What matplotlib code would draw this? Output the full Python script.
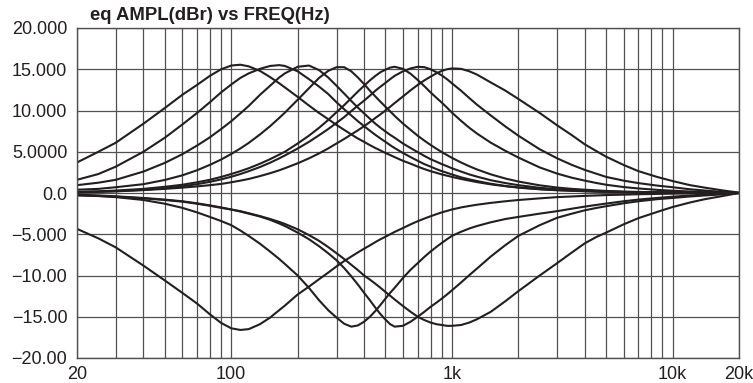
import numpy as np
import matplotlib
matplotlib.use("Agg")
from matplotlib import pyplot as plt
from matplotlib.ticker import NullFormatter

plt.rcParams['font.family'] = ['Liberation Sans', 'DejaVu Sans']

# frequency points (Hz) shared by all curves
freq_hz = [20, 25, 30, 40, 50, 60, 70, 80, 90, 100,
           110, 120, 135, 150, 165, 175, 200, 225, 250, 275,
           300, 325, 350, 375, 400, 425, 450, 475, 500, 525,
           550, 600, 650, 700, 750, 800, 850, 900, 950, 1000,
           1100, 1200, 1300, 1500, 1750, 2000, 2500, 3000, 3500, 4000,
           4500, 5000, 6000, 7000, 8500, 10000, 12000, 14000, 17000, 20000]

# boost curves (dBr), named by centre frequency
boost_105 = [3.7, 5.0, 6.1, 8.4, 10.3, 11.9, 13.1, 14.2, 15.0, 15.45,
             15.55, 15.35, 14.8, 14.05, 13.3, 12.8, 11.65, 10.6, 9.7, 8.95,
             8.25, 7.65, 7.1, 6.6, 6.2, 5.8, 5.45, 5.15, 4.85, 4.6,
             4.35, 3.9, 3.55, 3.2, 2.9, 2.65, 2.45, 2.25, 2.1, 1.95,
             1.7, 1.5, 1.32, 1.05, 0.82, 0.65, 0.45, 0.33, 0.26, 0.21,
             0.17, 0.14, 0.1, 0.08, 0.05, 0.04, 0.03, 0.02, 0.01, 0.0]
boost_155 = [1.6, 2.3, 3.2, 5.0, 6.7, 8.3, 9.7, 11.0, 12.2, 13.15,
             13.95, 14.5, 15.05, 15.4, 15.5, 15.4, 14.75, 13.8, 12.9, 12.0,
             11.0, 10.15, 9.4, 8.7, 8.1, 7.55, 7.05, 6.6, 6.2, 5.8,
             5.45, 4.85, 4.35, 3.9, 3.5, 3.2, 2.9, 2.65, 2.45, 2.25,
             1.9, 1.65, 1.45, 1.12, 0.85, 0.68, 0.47, 0.36, 0.29, 0.23,
             0.19, 0.16, 0.11, 0.09, 0.06, 0.05, 0.03, 0.02, 0.01, 0.0]
boost_210 = [0.95, 1.25, 1.6, 2.6, 3.65, 4.7, 5.75, 6.75, 7.75, 8.7,
             9.65, 10.55, 11.9, 13.0, 14.0, 14.5, 15.3, 15.45, 14.9, 14.0,
             13.0, 12.05, 11.15, 10.35, 9.65, 9.0, 8.4, 7.9, 7.45, 7.05,
             6.7, 6.0, 5.45, 4.95, 4.5, 4.1, 3.8, 3.5, 3.25, 3.0,
             2.6, 2.25, 1.98, 1.55, 1.2, 0.95, 0.63, 0.46, 0.35, 0.28,
             0.22, 0.18, 0.12, 0.09, 0.06, 0.05, 0.03, 0.02, 0.01, 0.0]
boost_305 = [0.4, 0.5, 0.7, 1.07, 1.58, 2.14, 2.76, 3.41, 4.06, 4.73,
             5.4, 6.07, 7.1, 8.1, 9.1, 9.74, 11.3, 12.7, 13.95, 14.8,
             15.25, 15.25, 14.75, 14.0, 13.2, 12.4, 11.7, 11.05, 10.45, 9.9,
             9.35, 8.42, 7.65, 6.94, 6.35, 5.83, 5.37, 4.96, 4.6, 4.26,
             3.7, 3.24, 2.85, 2.26, 1.75, 1.39, 0.93, 0.66, 0.5, 0.4,
             0.32, 0.25, 0.18, 0.13, 0.09, 0.07, 0.05, 0.03, 0.015, 0.0]
boost_540 = [0.15, 0.2, 0.3, 0.5, 0.75, 1.0, 1.3, 1.6, 1.95, 2.3,
             2.65, 3.0, 3.55, 4.1, 4.65, 5.0, 6.0, 6.95, 7.9, 8.85,
             9.8, 10.65, 11.5, 12.3, 13.0, 13.65, 14.2, 14.65, 14.95, 15.2,
             15.3, 15.05, 14.45, 13.7, 12.95, 12.2, 11.55, 10.95, 10.35, 9.75,
             8.75, 7.9, 7.2, 6.1, 5.1, 4.3, 3.1, 2.35, 1.85, 1.5,
             1.22, 1.0, 0.72, 0.55, 0.38, 0.28, 0.18, 0.12, 0.05, 0.0]
boost_705 = [0.1, 0.16, 0.22, 0.38, 0.58, 0.81, 1.07, 1.35, 1.65, 1.97,
             2.3, 2.64, 3.15, 3.67, 4.2, 4.55, 5.39, 6.2, 7.0, 7.75,
             8.5, 9.2, 9.93, 10.6, 11.2, 11.8, 12.4, 12.9, 13.35, 13.8,
             14.2, 14.75, 15.1, 15.3, 15.25, 15.0, 14.65, 14.25, 13.8, 13.3,
             12.4, 11.5, 10.7, 9.4, 8.05, 6.95, 5.3, 4.2, 3.4, 2.8,
             2.35, 1.95, 1.5, 1.2, 0.9, 0.7, 0.45, 0.3, 0.12, 0.0]
boost_1010 = [0.1, 0.15, 0.2, 0.35, 0.5, 0.65, 0.8, 0.95, 1.1, 1.3,
              1.5, 1.7, 2.05, 2.4, 2.75, 3.0, 3.6, 4.2, 4.8, 5.4,
              6.0, 6.55, 7.1, 7.6, 8.1, 8.6, 9.1, 9.55, 10.0, 10.45,
              10.9, 11.7, 12.45, 13.1, 13.65, 14.1, 14.5, 14.8, 15.0, 15.1,
              15.05, 14.75, 14.35, 13.4, 12.4, 11.4, 9.7, 8.2, 7.0, 5.9,
              5.1, 4.4, 3.4, 2.65, 1.95, 1.45, 0.95, 0.65, 0.3, 0.05]

# cut curves (dBr)
cut_100 = [-4.35, -5.5, -6.6, -8.8, -10.6, -12.1, -13.4, -14.7, -15.75, -16.4,
           -16.6, -16.5, -15.9, -15.1, -14.2, -13.65, -12.3, -11.35, -10.45, -9.65,
           -8.9, -8.25, -7.7, -7.2, -6.75, -6.35, -5.95, -5.6, -5.3, -5.0,
           -4.72, -4.25, -3.8, -3.42, -3.1, -2.82, -2.57, -2.35, -2.17, -2.0,
           -1.75, -1.57, -1.42, -1.2, -1.0, -0.85, -0.65, -0.5, -0.42, -0.35,
           -0.3, -0.25, -0.2, -0.15, -0.11, -0.08, -0.05, -0.03, -0.015, 0.0]
cut_350 = [-0.3, -0.37, -0.5, -0.85, -1.3, -1.8, -2.35, -2.9, -3.4, -3.9,
           -4.55, -5.2, -6.15, -7.1, -8.0, -8.6, -10.0, -11.5, -13.0, -14.2,
           -15.1, -15.85, -16.2, -16.05, -15.6, -15.0, -14.3, -13.55, -12.8, -12.1,
           -11.5, -10.3, -9.3, -8.5, -7.75, -7.1, -6.55, -6.05, -5.6, -5.2,
           -4.7, -4.3, -4.0, -3.55, -3.15, -2.9, -2.5, -2.2, -1.9, -1.65,
           -1.45, -1.28, -1.0, -0.8, -0.6, -0.45, -0.3, -0.2, -0.1, 0.0]
cut_550 = [-0.25, -0.35, -0.45, -0.65, -0.85, -1.05, -1.3, -1.55, -1.8, -2.0,
           -2.25, -2.5, -2.85, -3.25, -3.7, -4.0, -4.8, -5.6, -6.45, -7.3,
           -8.15, -9.1, -10.1, -11.1, -12.1, -13.0, -13.9, -14.7, -15.35, -15.9,
           -16.2, -16.1, -15.6, -15.0, -14.4, -13.8, -13.3, -12.8, -12.3, -11.8,
           -10.85, -9.95, -9.15, -7.7, -6.3, -5.2, -3.9, -3.0, -2.5, -2.1,
           -1.82, -1.6, -1.25, -1.0, -0.75, -0.6, -0.42, -0.3, -0.15, 0.0]
cut_1000 = [-0.2, -0.3, -0.4, -0.6, -0.8, -1.0, -1.25, -1.5, -1.75, -2.0,
            -2.2, -2.45, -2.8, -3.15, -3.5, -3.75, -4.4, -5.1, -5.8, -6.55,
            -7.3, -8.0, -8.7, -9.35, -10.0, -10.5, -11.0, -11.5, -12.0, -12.45,
            -12.9, -13.7, -14.4, -15.0, -15.4, -15.7, -15.9, -16.0, -16.1, -16.1,
            -16.0, -15.7, -15.3, -14.4, -13.1, -11.9, -10.0, -8.5, -7.2, -6.1,
            -5.35, -4.8, -3.8, -3.05, -2.3, -1.7, -1.15, -0.75, -0.35, 0.0]

curves = [boost_105, boost_155, boost_210, boost_305, boost_540, boost_705,
          boost_1010, cut_100, cut_350, cut_550, cut_1000]

x_major = [20, 100, 1000, 10000, 20000]
x_major_labels = ["20", "100", "1k", "10k", "20k"]
x_minor = [30, 40, 50, 60, 70, 80, 90, 200, 300, 400, 500, 600, 700, 800, 900,
           2000, 3000, 4000, 5000, 6000, 7000, 8000, 9000]
y_ticks = [-20, -15, -10, -5, 0, 5, 10, 15, 20]
y_labels = ["\u221220.00", "\u221215.00", "\u221210.00", "\u22125.000", "0.0",
            "5.0000", "10.000", "15.000", "20.000"]

fig = plt.figure(figsize=(7.53, 3.83), dpi=100)
ax = fig.add_axes([77 / 753, 1 - 358 / 383, 662 / 753, 330 / 383])

for y in curves:
    ax.plot(freq_hz, y, color="#231f20", lw=1.5, solid_joinstyle="round",
            solid_capstyle="round")

ax.set_xscale("log")
ax.set_xlim(20, 20000)
ax.set_ylim(-20, 20)
ax.set_xticks(x_major)
ax.set_xticklabels(x_major_labels)
ax.set_xticks(x_minor, minor=True)
ax.xaxis.set_minor_formatter(NullFormatter())
ax.set_yticks(y_ticks)
ax.set_yticklabels(y_labels)
ax.tick_params(which="both", length=0, labelsize=13, colors="#231f20")
ax.tick_params(axis="x", pad=6)
ax.tick_params(axis="y", pad=7)
ax.grid(which="both", color="#505050", lw=0.9)
for s in ax.spines.values():
    s.set_color("#505050")
    s.set_linewidth(1.0)

fig.text(90 / 753, 1 - 20.5 / 383, "eq AMPL(dBr) vs FREQ(Hz)", fontsize=13.3,
         fontweight="bold", ha="left", va="baseline", color="#231f20")

fig.savefig("out.png", dpi=100)
